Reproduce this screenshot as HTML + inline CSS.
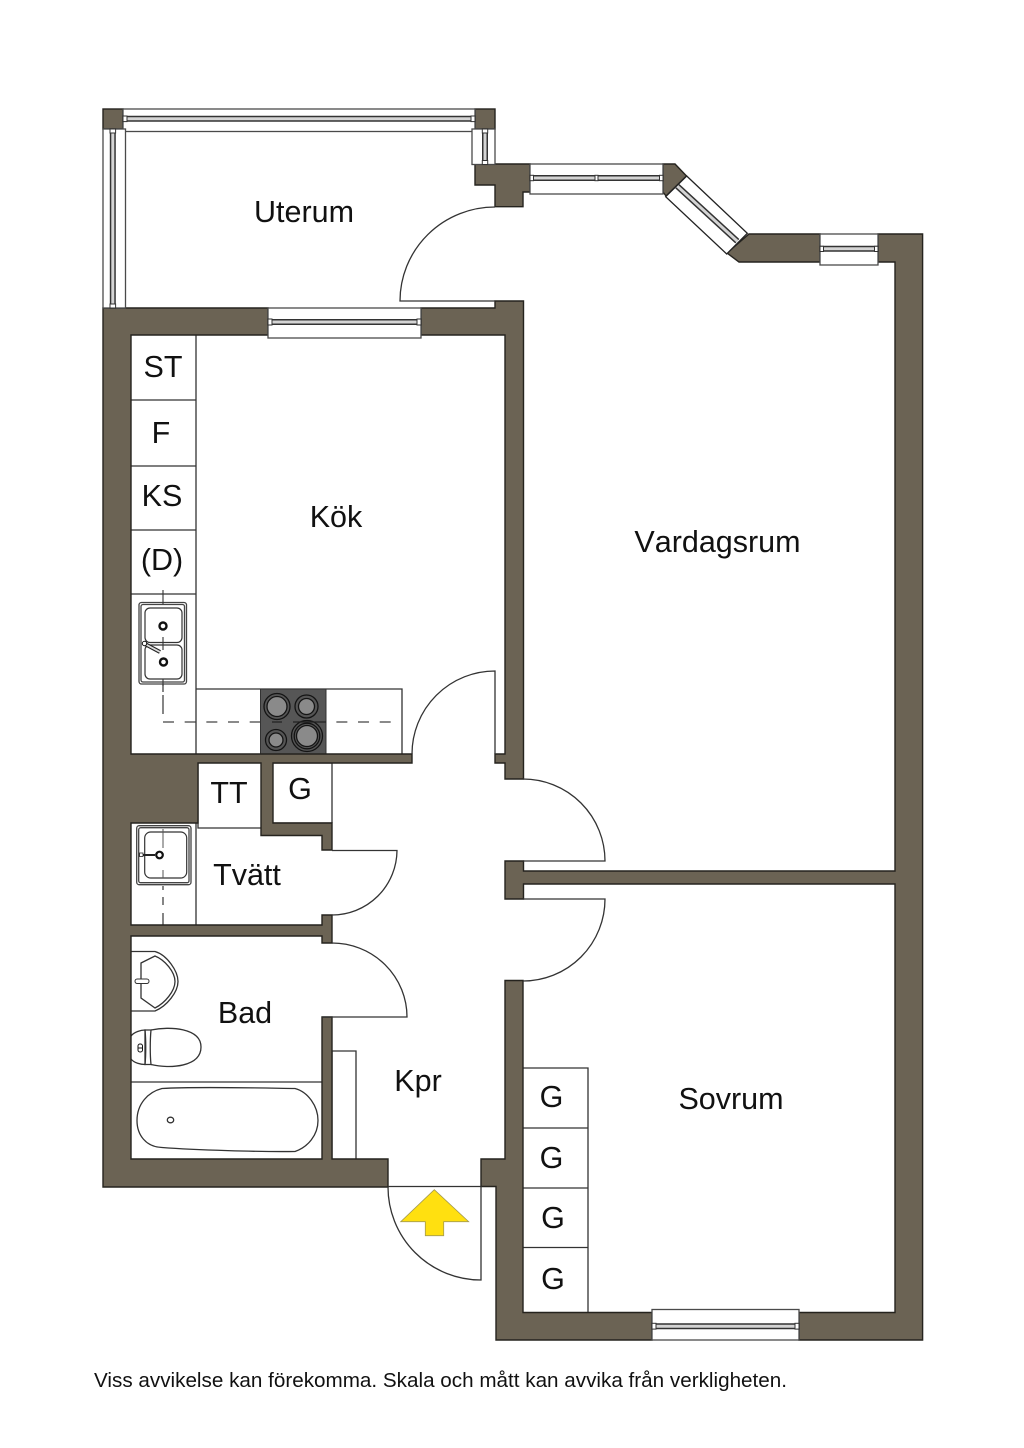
<!DOCTYPE html>
<html lang="sv"><head><meta charset="utf-8"><title>Planritning</title>
<style>html,body{margin:0;padding:0;background:#fff}svg{display:block}
text{font-family:"Liberation Sans",sans-serif;fill:#111;font-size:30.5px;text-anchor:middle}
.w{fill:#6b6354;stroke:#25231e;stroke-width:1.4;stroke-linejoin:miter}
.l{fill:none;stroke:#333;stroke-width:1.3}
.win{fill:#fff;stroke:#4a4a4a;stroke-width:1.3}
.go{stroke:#333;stroke-width:6;fill:none}
.gi{stroke:#d4d4d4;stroke-width:3;fill:none}
.e{fill:#fff;stroke:#333;stroke-width:1}
.d{fill:none;stroke:#444;stroke-width:1.3}
</style></head><body>
<svg width="1024" height="1448" viewBox="0 0 1024 1448" xmlns="http://www.w3.org/2000/svg">
<rect width="1024" height="1448" fill="#fff"/>

<!-- fixtures -->
<path class="l" d="M131 400H196M131 466H196M131 530H196M131 594H196M196 335V754M196 689H402V754M131 1082H322"/>
<path class="l" d="M332 1051H356V1159M332 1051V1159"/>
<path class="l" d="M523 1068H588V1312M523 1128H588M523 1188H588M523 1247.500H588"/>
<path class="l" d="M198 763V828H261M196 823V925M273 823H332"/>
<path class="l" d="M273 763H332V823"/>

<!-- dashed counter line -->
<path class="d" stroke-dasharray="11 10.670" d="M163 722H392"/>
<path class="d" d="M163 682V692M163 695V714"/>
<path class="d" d="M163 886V890M163 897V905M163 913V925"/>

<!-- stove -->
<rect x="260.500" y="689" width="65.500" height="65" fill="#565656" stroke="#333"/>
<g stroke="#141414" stroke-width="1.300">
<circle cx="277" cy="706.500" r="13" fill="#555"/><circle cx="277" cy="706.500" r="10" fill="#8a8a8a"/>
<circle cx="306.500" cy="706.500" r="11.500" fill="#555"/><circle cx="306.500" cy="706.500" r="8" fill="#8a8a8a"/>
<circle cx="276" cy="740" r="10.500" fill="#555"/><circle cx="276" cy="740" r="7" fill="#8a8a8a"/>
<circle cx="307" cy="736" r="15.500" fill="#555"/><circle cx="307" cy="736" r="12.800" fill="#555"/><circle cx="307" cy="736" r="10.500" fill="#8a8a8a"/>
</g>
<path d="M272 722H282M293 722H326" stroke="#222" stroke-width="1.200"/>

<!-- kitchen sink -->
<rect x="139" y="602.500" width="47.500" height="81.500" rx="2.500" fill="#fff" stroke="#444" stroke-width="1.300"/>
<rect x="141" y="604.500" width="43.500" height="77.500" rx="2" fill="#fff" stroke="#444" stroke-width="1.300"/>
<rect x="145" y="608" width="37" height="34.500" rx="5" fill="#fff" stroke="#333" stroke-width="1.200"/>
<rect x="145" y="645" width="37" height="34" rx="5" fill="#fff" stroke="#333" stroke-width="1.200"/>
<path d="M163 590V604M163 637V650M163 679V686" stroke="#333" stroke-width="1.100"/>
<circle cx="163" cy="626" r="3.500" fill="#fff" stroke="#111" stroke-width="2.400"/>
<circle cx="163.500" cy="662" r="3.500" fill="#fff" stroke="#111" stroke-width="2.400"/>
<path d="M145 644L160 652" stroke="#222" stroke-width="4"/><path d="M145 644L160 652" stroke="#ddd" stroke-width="1.800"/>
<circle cx="144.500" cy="643.500" r="2.200" fill="#fff" stroke="#111"/>

<!-- laundry sink -->
<rect x="136.700" y="825.700" width="54.300" height="59" rx="2.500" fill="#fff" stroke="#444" stroke-width="1.300"/>
<rect x="138.700" y="827.700" width="50.300" height="55" rx="2" fill="#fff" stroke="#444" stroke-width="1.300"/>
<rect x="144.700" y="832" width="42" height="46" rx="6" fill="#fff" stroke="#333" stroke-width="1.200"/>
<path d="M163 829V848M163 870V878" stroke="#555" stroke-width="1"/>
<path d="M139 855H155" stroke="#222" stroke-width="2"/>
<rect x="139.500" y="853" width="3.500" height="3.500" fill="#fff" stroke="#222" stroke-width="0.800"/>
<circle cx="159.500" cy="855" r="3.300" fill="#fff" stroke="#111" stroke-width="2.200"/>

<!-- bathroom fixtures -->
<path class="l" d="M131 951.500H155C167 955 178 971 178 981.500C178 992 167 1006 155 1011H131"/>
<path class="l" d="M141 963L155 956C165 960 175 972 175 981.500C175 991 165 1003 155 1008L141 998Z"/>
<rect x="135" y="979" width="14" height="4.500" rx="2.200" fill="#fff" stroke="#333"/>
<path class="l" d="M131 1036C134 1032 141 1030 145 1030V1064.500C141 1064.500 134 1063 131 1059"/>
<path class="l" d="M145 1030C146 1040 146 1055 145 1064.500H151C150 1055 150 1040 151 1030Z"/>
<path class="l" d="M151 1030C170 1026 201 1028 201 1047C201 1067 170 1069 151 1064.500"/>
<rect x="138" y="1044" width="4.500" height="8" rx="2" fill="#fff" stroke="#111"/><path d="M138 1048H142.500" stroke="#111"/>
<path class="l" d="M162 1088.500C195 1086.500 260 1088 295 1088.500C308 1092 318 1106 318 1120.500C318 1135 308 1147 295 1151.500C260 1152 195 1150 162 1147.500C146 1147 137 1135 137 1120.500C137 1104 148 1092 162 1088.500Z"/>
<ellipse cx="170.500" cy="1120" rx="3.200" ry="2.800" class="l"/>

<!-- walls -->
<path class="w" d="M103 308H268V335H131V754H412V763H273V823H332V850H322V835.500H261V763H198V823H131V925H322V915H332V943H322V936H131V1159H322V1017H332V1159H388V1187H103Z"/>
<path class="w" d="M421 308H495V301H523.500V779H505V763H495V754H505V335H421Z"/>
<path class="w" d="M505 861H523.500V871H895V262H878V234H922.600V1340H799V1312.500H895V884H523.500V899H505Z"/>
<path class="w" d="M505 980.500H523V1312.500H652V1340H496V1186.500H481V1159H505Z"/>
<path class="w" d="M475 164H530V192H523V206.700H495V185H475Z"/>
<path class="w" d="M663 164H675L686.500 176L666 196L663 192Z"/>
<path class="w" d="M749 234H820V262H739L727 253Z"/>
<rect class="w" x="103" y="109" width="20" height="20"/>
<rect class="w" x="475" y="109" width="20" height="20"/>

<!-- windows -->
<rect class="win" x="123" y="109" width="352" height="22.500"/>
<rect class="win" x="103" y="129" width="22.500" height="179"/>
<rect class="win" x="472" y="129" width="23" height="35.500"/>
<rect class="win" x="530" y="164" width="133" height="30"/>
<polygon class="win" points="686.700,176 747.300,233.300 726.700,254 665.700,196.700" stroke-width="1.500" style="stroke:#222"/>
<rect class="win" x="268" y="308" width="153" height="30"/>
<rect class="win" x="820" y="234" width="58" height="31"/>
<rect class="win" x="652" y="1309.500" width="147" height="30.500"/>

<path class="go" d="M123 118.800H475M112.800 129V308M485 129V164M530 178H663M268 322H421M820 248.800H878M652 1326.200H799"/>
<path class="gi" d="M123 118.800H475M112.800 129V308M485 129V164M530 178H663M268 322H421M820 248.800H878M652 1326.200H799"/>
<path class="go" d="M677.300 186.200L737.300 241.200"/>
<path class="gi" d="M677.300 186.200L737.300 241.200"/>
<g class="e">
<rect x="123" y="116" width="4" height="5.600"/><rect x="471" y="116" width="4" height="5.600"/>
<rect x="110" y="129" width="5.600" height="4"/><rect x="110" y="304" width="5.600" height="4"/>
<rect x="482.300" y="129" width="5.400" height="4"/><rect x="482.300" y="160.500" width="5.400" height="4"/>
<rect x="530" y="175.300" width="3.500" height="5.400"/><rect x="595" y="175.300" width="3" height="5.400"/><rect x="659.500" y="175.300" width="3.500" height="5.400"/>
<rect x="268" y="319" width="4" height="6"/><rect x="417" y="319" width="4" height="6"/>
<rect x="820" y="246.300" width="3.500" height="5.200"/><rect x="874.500" y="246.300" width="3.500" height="5.200"/>
<rect x="652" y="1323.300" width="4" height="5.800"/><rect x="795" y="1323.300" width="4" height="5.800"/>
</g>

<!-- doors -->
<g class="l">
<path d="M495 207A95 94 0 0 0 400 301H495"/>
<path d="M495 754V671A83 83 0 0 0 412 754"/>
<path d="M523 779A82 82 0 0 1 605 861H523"/>
<path d="M523 981A82 82 0 0 0 605 899H523"/>
<path d="M332 850.500H397A65 65 0 0 1 332 915"/>
<path d="M332 943A75 74 0 0 1 407 1017H322"/>
<path d="M388 1187A93 93 0 0 0 481 1280V1186.500H388"/>
</g>

<!-- entrance arrow -->
<polygon points="434.300,1189.700 468.700,1221.700 443.700,1221.700 443.700,1235.700 425.300,1235.700 425.300,1221.700 400.700,1221.700" fill="#ffe010" stroke="#a39a50" stroke-width="0.800"/>

<!-- labels -->
<text x="304" y="222">Uterum</text>
<text x="717.500" y="552" style="font-kerning:none">Vardagsrum</text>
<text x="336" y="527">Kök</text>
<text x="163" y="377">ST</text>
<text x="161" y="443">F</text>
<text x="162" y="506">KS</text>
<text x="162" y="570">(D)</text>
<text x="229" y="803">TT</text>
<text x="300" y="799">G</text>
<text x="247" y="885">Tvätt</text>
<text x="245" y="1023">Bad</text>
<text x="418" y="1091">Kpr</text>
<text x="731" y="1109">Sovrum</text>
<text x="551.500" y="1107">G</text>
<text x="551.500" y="1168">G</text>
<text x="553" y="1228">G</text>
<text x="553" y="1289">G</text>
<text x="94" y="1387" style="font-size:20px;text-anchor:start" textLength="693" lengthAdjust="spacingAndGlyphs">Viss avvikelse kan förekomma. Skala och mått kan avvika från verkligheten.</text>
</svg>
</body></html>
